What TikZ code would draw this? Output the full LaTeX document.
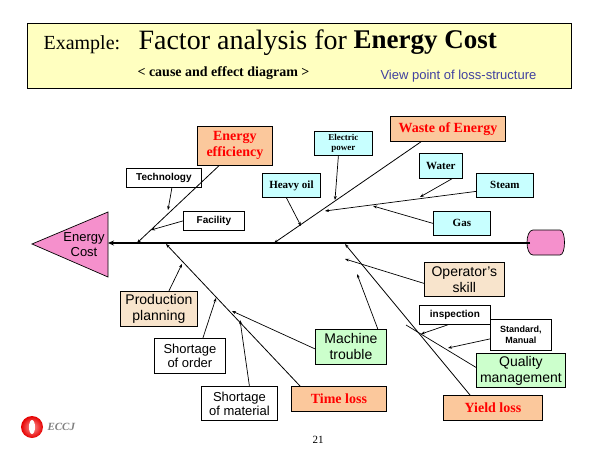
\documentclass[tikz,border=0pt]{standalone}
\usepackage{fontspec}
\setmainfont{Liberation Serif}
\setsansfont{Liberation Sans}
\usetikzlibrary{arrows.meta}
\definecolor{hdr}{HTML}{FFFFC0}
\definecolor{pinkc}{HTML}{F590CC}
\definecolor{orng}{HTML}{FBC89C}
\definecolor{cyanb}{HTML}{C8FFFF}
\definecolor{tanb}{HTML}{F8E4CC}
\definecolor{grnb}{HTML}{CCFFCC}
\definecolor{vp}{HTML}{4040A0}
\begin{document}
\begin{tikzpicture}[x=1pt,y=-1pt,
  bx/.style={draw,line width=0.8pt,inner sep=0pt,anchor=north west,align=center,font=\sffamily},
  main/.style={bx,fill=orng,text=red,font=\bfseries\fontsize{14}{16}\selectfont},
  cyb/.style={bx,fill=cyanb,font=\bfseries\fontsize{11}{12}\selectfont},
  wb/.style={bx,fill=white,font=\sffamily\bfseries\fontsize{10}{11}\selectfont},
  tb/.style={bx,fill=tanb,font=\sffamily\fontsize{14}{16}\selectfont},
  gb/.style={bx,fill=grnb,font=\sffamily\fontsize{14}{16}\selectfont},
  bone/.style={line width=0.8pt,-{Stealth[length=4pt,width=3pt]}},
  small/.style={line width=0.7pt,-{Stealth[length=4pt,width=3pt]}}]
\useasboundingbox (0,0) rectangle (600,450);
% header
\node[draw,fill=hdr,line width=0.8pt,minimum width=544pt,minimum height=65pt,inner sep=0pt,anchor=north west] (hdr) at (27,23) {};
\node[anchor=west,font=\fontsize{20}{22}\selectfont] (ex) at (40,45) {Example:};
\node[anchor=west,font=\fontsize{28}{30}\selectfont] (fa) at (135,43) {Factor analysis for};
\node[anchor=west,font=\bfseries\fontsize{27}{29}\selectfont] (ec) at (350,43) {Energy Cost};
\node[anchor=west,font=\bfseries\fontsize{14}{15}\selectfont] (sub) at (134,73) {< cause and effect diagram >};
\node[anchor=west,text=vp,font=\sffamily\fontsize{13}{14}\selectfont] (vp) at (377,76) {View point of loss-structure};
% head and tail
\draw[fill=pinkc,line width=0.7pt] (32,244) -- (108,212) -- (108,277) -- cycle;
\node[font=\sffamily\fontsize{13}{15}\selectfont,align=center] (head) at (84,245) {Energy\\Cost};
\coordinate (hp) at (108,243);
\coordinate (tailp) at (530,243);
\draw[fill=pinkc,line width=0.7pt] (560,230) -- (533,230) .. controls (525,230) and (525,255) .. (533,255) -- (560,255) .. controls (566,255) and (566,230) .. (560,230) -- cycle;
\draw[line width=2pt,-{Stealth[length=6pt,width=5pt]}] (tailp) -- (hp);
% upper
\node[main,minimum width=75pt,minimum height=39pt] (ee) at (197,126) {Energy\\efficiency};
\node[wb,minimum width=75pt,minimum height=19pt] (tech) at (126,168) {Technology};
\node[wb,minimum width=61pt,minimum height=19pt] (fac) at (183,211) {Facility};
\node[main,minimum width=115pt,minimum height=25pt] (we) at (390,116) {Waste of Energy};
\node[cyb,minimum width=58pt,minimum height=24pt,font=\bfseries\fontsize{9}{10}\selectfont] (elp) at (314,131) {Electric\\power};
\node[cyb,minimum width=58pt,minimum height=24pt] (ho) at (262,173) {Heavy oil};
\node[cyb,minimum width=43pt,minimum height=25pt] (wa) at (419,153) {Water};
\node[cyb,minimum width=57pt,minimum height=24pt] (st) at (476,173) {Steam};
\node[cyb,minimum width=57pt,minimum height=24pt] (gas) at (433,211) {Gas};
\coordinate (e1) at (137,243);
\coordinate (e2) at (274,243);
\coordinate (b1) at (168,210);
\coordinate (b2) at (151,230);
\coordinate (b3) at (335,200);
\coordinate (b4) at (301,226);
\coordinate (b5) at (325,211);
\coordinate (b6) at (420,197);
\coordinate (b7) at (373,206);
\draw[bone] (ee.south) ++(-16,0) -- (e1);
\draw[small] (tech.south) ++(8,0) -- (b1);
\draw[small] (fac.west) -- (b2);
\draw[bone] (we.south west) ++(31,0) -- (e2);
\draw[small] (elp.south) ++(-5,0) -- (b3);
\draw[small] (ho.south) ++(-5,0) -- (b4);
\draw[small] (st.west) ++(0,6) -- (b5);
\draw[small] (wa.south) ++(11,0) -- (b6);
\draw[small] (gas.west) -- (b7);
% lower
\node[main,minimum width=95pt,minimum height=25pt] (tl) at (291,386) {Time loss};
\node[tb,minimum width=77pt,minimum height=35pt] (pp) at (120,291) {Production\\planning};
\node[wb,minimum width=71pt,minimum height=35pt,font=\sffamily\fontsize{13}{14}\selectfont] (so) at (154,338) {Shortage\\of order};
\node[wb,minimum width=76pt,minimum height=34pt,font=\sffamily\fontsize{13}{14}\selectfont] (sm) at (201,386) {Shortage\\of material};
\node[gb,minimum width=71pt,minimum height=35pt] (mt) at (315,329) {Machine\\trouble};
\node[main,minimum width=99pt,minimum height=25pt] (yl) at (443,395) {Yield loss};
\node[tb,minimum width=80pt,minimum height=34pt] (os) at (424,262) {Operator's\\skill};
\node[gb,minimum width=89pt,minimum height=34pt] (qm) at (476,353) {Quality\\management};
\node[wb,minimum width=71pt,minimum height=19pt] (insp) at (419,305) {inspection};
\node[wb,minimum width=61pt,minimum height=31pt,font=\sffamily\bfseries\fontsize{9}{11}\selectfont] (sman) at (490,319) {Standard,\\Manual};
\coordinate (e3) at (166,244);
\coordinate (e4) at (345,244);
\coordinate (c1) at (182,264);
\coordinate (c2) at (216,298);
\coordinate (c3) at (240,320);
\coordinate (c4) at (232,311);
\coordinate (c5) at (357,274);
\coordinate (c6) at (345,259);
\coordinate (c7) at (406,325);
\coordinate (c8) at (421,334);
\coordinate (c9) at (448,348);
\draw[bone] (tl.north west) ++(9,0) -- (e3);
\draw[small] (pp.north) ++(10,0) -- (c1);
\draw[small] (so.north) ++(13,0) -- (c2);
\draw[small] (sm.north) ++(10,0) -- (c3);
\draw[small] (mt.west) ++(0,2) -- (c4);
\draw[small] (mt.north east) ++(-9,0) -- (c5);
\draw[bone] (yl.north west) ++(27,0) -- (e4);
\draw[small] (os.west) ++(0,4) -- (c6);
\draw[line width=0.7pt] (qm.west) ++(0,-3) -- (c7);
\draw[small] (insp.south) ++(-7,0) -- (c8);
\draw[small] (sman.west) ++(0,4) -- (c9);
% footer
\node[font=\fontsize{11}{12}\selectfont] (pg) at (318,440) {21};
\shade[inner color=red!40,outer color=red!90!black] (32,427) circle (11);
\fill[white] (32,427) ellipse (3 and 7);
\node[anchor=west,text=gray,font=\bfseries\itshape\fontsize{11}{12}\selectfont] (eccj) at (44,427) {ECCJ};
\end{tikzpicture}
\end{document}
